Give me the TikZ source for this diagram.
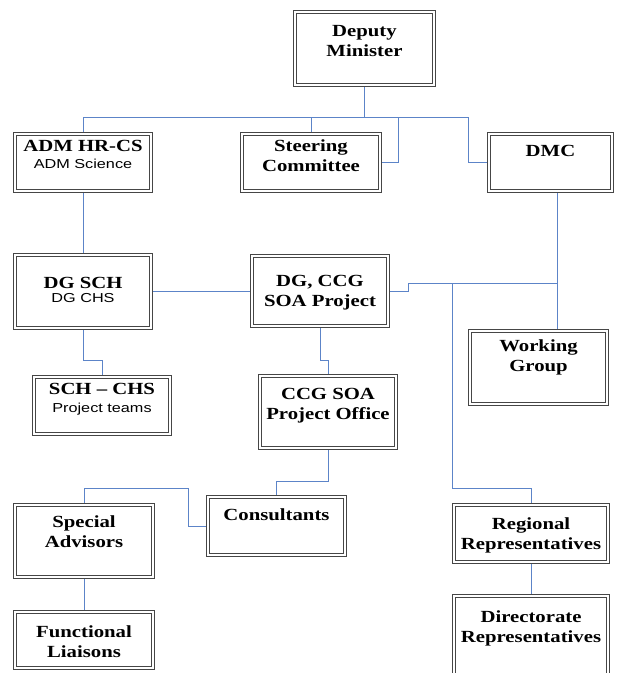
\documentclass[tikz,border=0pt]{standalone}
\usepackage{fontspec}
\setmainfont{Liberation Serif}[FakeStretch=1.22]
\setsansfont{Liberation Sans}[FakeStretch=1.25]
\definecolor{boxgray}{RGB}{70,70,70}
\definecolor{linkblue}{RGB}{92,132,200}
\newcommand\subline[1]{{\sffamily\mdseries\fontsize{13}{15}\selectfont #1}}
\begin{document}
\begin{tikzpicture}[x=1pt,y=-1pt,
    orgbox/.style={draw=boxgray, double=white, double distance=1.3pt, line width=1.3pt,
      fill=white, inner sep=0pt, outer sep=1.95pt},
    boxtext/.style={anchor=north, align=center, inner sep=0pt,
      font=\fontsize{17}{20.5}\selectfont\bfseries},
    link/.style={draw=linkblue, line width=1pt}]
  \useasboundingbox (0,0) rectangle (617,673);
  \clip (0,0) rectangle (617,673);

  % top row
  \node[orgbox, minimum width=139.1, minimum height=73.1,
    label={[boxtext,yshift=-15]north:{Deputy\\Minister}}] (dm) at (364.5,48.5) {};
  \node[orgbox, minimum width=136.1, minimum height=57.1,
    label={[boxtext,yshift=-8]north:{ADM HR-CS\\[-3pt]\subline{ADM Science}}}] (adm) at (83,162.5) {};
  \node[orgbox, minimum width=138.1, minimum height=57.1,
    label={[boxtext,yshift=-7]north:{Steering\\Committee}}] (steer) at (311,162.5) {};
  \node[orgbox, minimum width=123.1, minimum height=57.1,
    label={[boxtext,yshift=-13]north:{DMC}}] (dmc) at (550.5,162.5) {};

  % middle
  \node[orgbox, minimum width=136.1, minimum height=73.1,
    label={[boxtext,yshift=-24]north:{DG SCH\\[-6pt]\subline{DG CHS}}}] (dgsch) at (83,291.5) {};
  \node[orgbox, minimum width=136.1, minimum height=70.1,
    label={[boxtext,yshift=-21]north:{DG, CCG\\SOA Project}}] (dgccg) at (320,291) {};
  \node[orgbox, minimum width=137.1, minimum height=73.1,
    label={[boxtext,yshift=-10]north:{Working\\Group}}] (wg) at (538.5,367.5) {};
  \node[orgbox, minimum width=136.1, minimum height=57.1,
    label={[boxtext,yshift=-8]north:{SCH – CHS\\[-2pt]\subline{Project teams}}}] (schchs) at (102,405.5) {};
  \node[orgbox, minimum width=136.1, minimum height=72.1,
    label={[boxtext,yshift=-14]north:{CCG SOA\\Project Office}}] (office) at (328,412) {};

  % bottom
  \node[orgbox, minimum width=137.1, minimum height=58.1,
    label={[boxtext,yshift=-13]north:{Consultants}}] (cons) at (276.5,526) {};
  \node[orgbox, minimum width=138.1, minimum height=72.1,
    label={[boxtext,yshift=-12]north:{Special\\Advisors}}] (spec) at (84,541) {};
  \node[orgbox, minimum width=138.1, minimum height=56.1,
    label={[boxtext,yshift=-15]north:{Functional\\Liaisons}}] (func) at (84,640) {};
  \node[orgbox, minimum width=154.1, minimum height=57.1,
    label={[boxtext,yshift=-14]north:{Regional\\Representatives}}] (reg) at (531,533.5) {};
  \node[orgbox, minimum width=154.1, minimum height=102.1,
    label={[boxtext,yshift=-16]north:{Directorate\\Representatives}}] (dir) at (531,647) {};

  \coordinate (topbus) at (0,117);
  \coordinate (stjoin) at (398,117);
  \coordinate (dmcjoin) at (468,117);
  \coordinate (rbus) at (557,283);
  \coordinate (regturn) at (452,488);
  \coordinate (midrow) at (0,360);
  \coordinate (lowrow) at (0,481);
  \coordinate (leftturn) at (188,488);

  \draw[link] (dm.south) -- (dm.south |- topbus);
  \draw[link] (adm.north) |- (dmcjoin) |- (dmc.west);
  \draw[link] (steer.north) -- (steer.north |- topbus);
  \draw[link] (steer.east) -| (stjoin);
  \draw[link] (adm.south) -- (dgsch.north);
  \draw[link] (dgsch.east) -- (dgsch.east -| dgccg.west);
  \draw[link] (dgccg.east) -- ++(18,0) |- (rbus);
  \draw[link] (rbus |- dmc.south) -- (rbus |- wg.north);
  \draw[link] (regturn |- rbus) -- (regturn) -| (reg.north);
  \draw[link] (reg.south) -- (dir.north);
  \draw[link] (dgsch.south) -- (dgsch.south |- midrow) -| (schchs.north);
  \draw[link] (dgccg.south) -- (dgccg.south |- midrow) -| (office.north);
  \draw[link] (office.south) -- (office.south |- lowrow) -| (cons.north);
  \draw[link] (cons.west) -| (leftturn) -| (spec.north);
  \draw[link] (spec.south) -- (func.north);
\end{tikzpicture}
\end{document}
